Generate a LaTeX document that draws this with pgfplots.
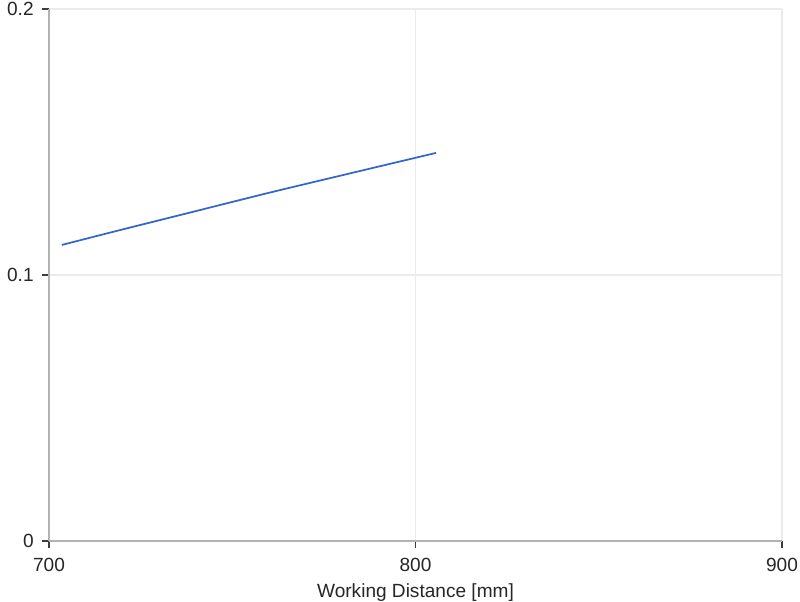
\documentclass[border=0pt]{standalone}
\usepackage{pgfplots}
\pgfplotsset{compat=1.18}
\usepackage{fontspec}
\setmainfont{Liberation Sans}
\usetikzlibrary{calc}
\definecolor{lineblue}{RGB}{51,102,204}
\definecolor{axgrey}{RGB}{178,178,178}
\definecolor{gridgrey}{RGB}{235,235,235}
\definecolor{tickgrey}{RGB}{60,60,60}
\begin{document}
\begin{tikzpicture}[x=0.75pt,y=0.75pt]
\begin{axis}[
  scale only axis,
  width=549.75pt, height=399pt,
  xmin=700, xmax=900, ymin=0, ymax=0.2,
  xtick={700,800,900}, ytick={0,0.1,0.2},
  axis x line=bottom, axis y line=left,
  axis line style={-, axgrey, line width=1.6pt},
  grid=major,
  major grid style={gridgrey, line width=0.8pt},
  tick align=outside,
  major tick length=5pt,
  tick style={tickgrey, line width=0.8pt},
  /pgf/number format/assume math mode=true,
  ticklabel style={font=\fontsize{14.3pt}{16pt}\selectfont, text=black!85},
  yticklabel style={/pgf/number format/fixed},
  xticklabel style={/pgf/number format/set thousands separator={}, yshift=-4pt},
  yticklabel style={xshift=-3pt},
  xlabel={Working Distance [mm]},
  xlabel style={font=\fontsize{14.3pt}{16pt}\selectfont, text=black!85, yshift=-2.5pt},
  clip=false,
]
\addplot[lineblue, line width=1.3pt, smooth] coordinates {
  (703.5,0.1113) (720,0.1171) (740,0.1240) (760,0.1309) (780,0.1375) (805.6,0.1459)
};
\coordinate (sw) at (rel axis cs:0,0);
\coordinate (ne) at (rel axis cs:1,1);
\end{axis}
\pgfresetboundingbox
\path ($(sw)+(-36.75pt,-45.75pt)$) rectangle ($(ne)+(13.5pt,6.75pt)$);
\end{tikzpicture}
\end{document}
